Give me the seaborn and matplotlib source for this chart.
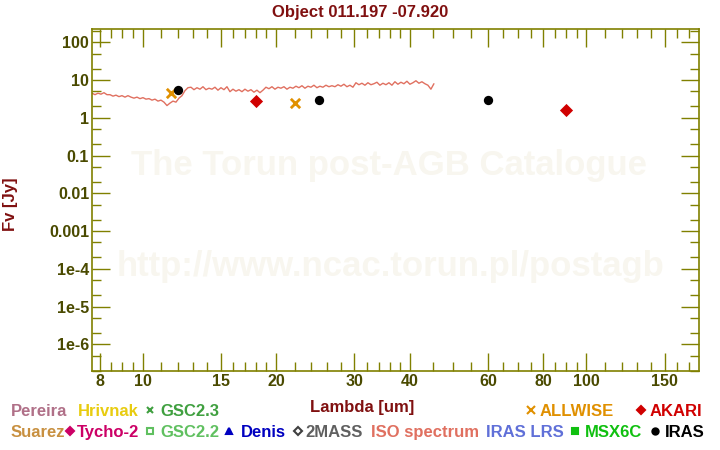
import numpy as np
import pandas as pd
import matplotlib
matplotlib.use("Agg")
import matplotlib.pyplot as plt
import seaborn as sns
from matplotlib.lines import Line2D
from matplotlib.ticker import FixedLocator, FixedFormatter, NullFormatter

# ---------------- data ----------------
iso_wavelength = [
    7.689, 7.810, 7.932, 8.057, 8.183, 8.311, 8.442, 8.574, 8.709, 8.845,
    8.984, 9.125, 9.268, 9.414, 9.561, 9.711, 9.863, 10.018, 10.175, 10.335,
    10.497, 10.661, 10.829, 10.998, 11.171, 11.346, 11.524, 11.705, 11.888, 12.075,
    12.264, 12.456, 12.652, 12.850, 13.052, 13.256, 13.464, 13.676, 13.890, 14.108,
    14.329, 14.554, 14.782, 15.014, 15.249, 15.489, 15.731, 15.978, 16.229, 16.483,
    16.742, 17.004, 17.271, 17.542, 17.817, 18.096, 18.380, 18.668, 18.961, 19.258,
    19.560, 19.867, 20.179, 20.495, 20.817, 21.143, 21.475, 21.812, 22.154, 22.501,
    22.854, 23.212, 23.576, 23.946, 24.322, 24.703, 25.091, 25.484, 25.884, 26.290,
    26.702, 27.121, 27.546, 27.978, 28.417, 28.863, 29.315, 29.775, 30.242, 30.716,
    31.198, 31.687, 32.184, 32.689, 33.202, 33.722, 34.251, 34.789, 35.334, 35.888,
    36.451, 37.023, 37.603, 38.193, 38.792, 39.401, 40.019, 40.646, 41.284, 41.931,
    42.589, 43.257, 43.935, 44.624, 45.324,
]
iso_flux = [
    4.49, 4.10, 4.49, 4.23, 4.63, 4.10, 4.10, 3.75, 3.98, 3.64,
    3.86, 3.53, 3.86, 3.53, 3.32, 3.53, 3.22, 3.42, 3.12, 3.22,
    2.94, 3.12, 2.77, 2.94, 2.60, 2.11, 2.45, 2.77, 2.60, 3.32,
    3.86, 5.23, 6.27, 6.46, 5.56, 6.27, 5.73, 6.66, 5.56, 6.08,
    5.73, 6.46, 5.39, 6.27, 5.56, 6.66, 4.92, 5.73, 5.07, 5.56,
    4.92, 5.73, 5.07, 5.56, 4.77, 5.39, 4.63, 5.39, 6.46, 5.90,
    6.66, 5.73, 6.46, 6.08, 6.66, 5.73, 6.46, 6.08, 6.87, 6.27,
    7.08, 6.08, 6.87, 6.46, 7.30, 6.27, 6.87, 6.46, 7.30, 6.66,
    7.08, 6.66, 7.52, 6.87, 7.75, 6.66, 7.30, 6.46, 8.49, 7.52,
    8.24, 7.30, 8.49, 7.52, 7.99, 8.75, 7.30, 8.24, 7.52, 8.49,
    7.30, 9.02, 7.75, 8.75, 7.99, 9.30, 7.75, 8.49, 9.58, 8.24,
    9.02, 7.99, 7.30, 5.73, 7.99,
]
allwise_wavelength = [11.6, 22.1]
allwise_flux = [4.55, 2.48]
iras_wavelength = [12.0, 25.0, 60.0]
iras_flux = [5.45, 2.98, 2.98]
akari_wavelength = [18.0, 90.0]
akari_flux = [2.80, 1.65]

x_major = [8, 10, 15, 20, 30, 40, 60, 80, 100, 150]
x_labels = ["8", "10", "15", "20", "30", "40", "60", "80", "100", "150"]
x_minor = [8.5, 9, 9.5, 11, 12, 13, 14, 16, 17, 18, 19, 22, 24, 26, 28,
           32, 34, 36, 38, 45, 50, 55, 65, 70, 75, 85, 90, 95,
           110, 120, 130, 140, 160, 170]
y_major = [1e-6, 1e-5, 1e-4, 1e-3, 1e-2, 1e-1, 1, 10, 100]
y_labels = ["1e-6", "1e-5", "1e-4", "0.001", "0.01", "0.1", "1", "10", "100"]

title = "Object 011.197 -07.920"

# ---------------- style ----------------
sns.set_style("white")
plt.rcParams["font.family"] = ["Liberation Sans", "DejaVu Sans"]
plt.rcParams["font.weight"] = "bold"

W, H = 720, 450
fig = plt.figure(figsize=(7.2, 4.5), dpi=100)
L, R, T, B = 92, 699.3, 29.3, 371.3
ax = fig.add_axes([L / W, 1 - B / H, (R - L) / W, (B - T) / H])
ax.set_xscale("log")
ax.set_yscale("log")
ax.set_xlim(7.69, 179.6)
ax.set_ylim(1.93e-7, 221)

olive = "#808000"
ticklab = "#4a4a00"
darkred = "#801010"

# watermark
ax.text(389 / W, 1 - 175.5 / H, "The Torun post-AGB Catalogue", transform=fig.transFigure,
        ha="center", va="baseline", fontsize=25, color="#f8f6ef", weight="bold", zorder=0)
ax.text(391 / W, 1 - 276 / H, "http://www.ncac.torun.pl/postagb", transform=fig.transFigure,
        ha="center", va="baseline", fontsize=25, color="#f8f6ef", weight="bold", zorder=0)

iso_df = pd.DataFrame({"wavelength": iso_wavelength, "flux": iso_flux})
sns.lineplot(data=iso_df, x="wavelength", y="flux", ax=ax, color="#e07060",
             linewidth=1.0, estimator=None, sort=False, zorder=2)

sns.scatterplot(x=allwise_wavelength, y=allwise_flux, ax=ax, marker="x", s=45,
                color="#e09000", linewidth=2.0, zorder=3)
sns.scatterplot(x=iras_wavelength, y=iras_flux, ax=ax, marker="o", s=45,
                color="black", edgecolor="black", linewidth=0, zorder=3)
sns.scatterplot(x=akari_wavelength, y=akari_flux, ax=ax, marker="D", s=45,
                color="#d00000", edgecolor="#d00000", linewidth=0, zorder=3)

ax.set_xlabel("")
ax.set_ylabel("")

# ticks
ax.xaxis.set_major_locator(FixedLocator(x_major))
ax.xaxis.set_major_formatter(FixedFormatter(x_labels))
ax.xaxis.set_minor_locator(FixedLocator(x_minor))
ax.xaxis.set_minor_formatter(NullFormatter())
ax.yaxis.set_major_locator(FixedLocator(y_major))
ax.yaxis.set_major_formatter(FixedFormatter(y_labels))
y_minor = [m * 10.0 ** e for e in range(-7, 3) for m in (2, 5)]
ax.yaxis.set_minor_locator(FixedLocator(y_minor))
ax.yaxis.set_minor_formatter(NullFormatter())

ax.tick_params(which="both", direction="in", top=True, right=True, bottom=True, left=True,
               color=olive, width=1.0)
ax.tick_params(which="major", length=13)
ax.tick_params(which="minor", length=6.5)
ax.tick_params(axis="x", which="major", labelsize=11.5, labelcolor=ticklab, pad=2)
ax.tick_params(axis="y", which="major", labelsize=11.5, labelcolor=ticklab, pad=2)
for lab in ax.get_xticklabels() + ax.get_yticklabels():
    lab.set_fontweight("bold")

for sp in ax.spines.values():
    sp.set_color(olive)
    sp.set_linewidth(1.2)
ax.grid(False)

# titles / labels
fig.text(360 / W, 1 - 17 / H, title, ha="center", va="baseline", fontsize=12,
         color=darkred, weight="bold")
fig.text(362 / W, 1 - 412 / H, "Lambda [um]", ha="center", va="baseline", fontsize=12,
         color=darkred, weight="bold")
fig.text(10 / W, 1 - 204 / H, "Fv [Jy]", ha="center", va="center", rotation=90,
         fontsize=12, color=darkred, weight="bold")

# legend (text rows)
row1, row2 = 416, 437
legend_text = [
    ("Pereira", 10.7, row1, "#b07088"),
    ("Hrivnak", 77.7, row1, "#e8cc10"),
    ("GSC2.3", 160, row1, "#40a040"),
    ("ALLWISE", 540, row1, "#e09000"),
    ("AKARI", 650, row1, "#d00000"),
    ("Suarez", 10.7, row2, "#c89040"),
    ("Tycho-2", 76.7, row2, "#cc0066"),
    ("GSC2.2", 160, row2, "#60c060"),
    ("Denis", 241, row2, "#0000c0"),
    ("2MASS", 305.5, row2, "#606060"),
    ("ISO spectrum", 370.7, row2, "#e07060"),
    ("IRAS LRS", 485.7, row2, "#6070d8"),
    ("MSX6C", 585, row2, "#10c010"),
    ("IRAS", 665, row2, "#000000"),
]
for txt, x, y, c in legend_text:
    fig.text(x / W, 1 - y / H, txt, ha="left", va="baseline", fontsize=12,
             color=c, weight="bold")

legend_markers = [
    ("x", 150.3, 410, "#40a040", True, 4.5),
    ("x", 530.7, 410, "#e09000", True, 5.5),
    ("D", 641, 410, "#d00000", True, 4.5),
    ("D", 70, 431, "#cc0066", True, 4.5),
    ("s", 150, 431, "#60c060", False, 4.0),
    ("^", 229.3, 431, "#0000c0", True, 5.0),
    ("D", 297.7, 431, "#404040", False, 4.5),
    ("s", 575, 431, "#10c010", True, 4.5),
    ("o", 655, 431, "#000000", True, 4.5),
]
for m, x, y, c, filled, ms in legend_markers:
    fig.add_artist(Line2D([x / W], [1 - y / H], transform=fig.transFigure, marker=m,
                          markersize=ms, color=c, markeredgecolor=c,
                          markerfacecolor=c if filled else "white",
                          markeredgewidth=1.5, linestyle="none"))

fig.savefig("out.png", dpi=100)
